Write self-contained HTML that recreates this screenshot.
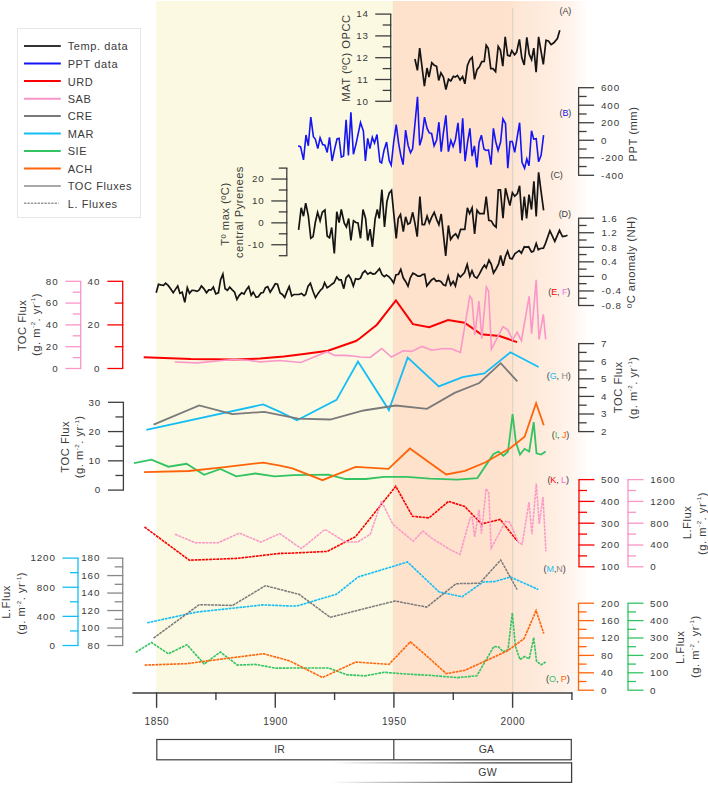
<!DOCTYPE html>
<html><head><meta charset="utf-8"><style>
html,body{margin:0;padding:0;background:#fff;width:708px;height:785px;overflow:hidden}
svg text{font-family:"Liberation Sans", sans-serif}
</style></head><body>
<svg width="708" height="785" viewBox="0 0 708 785" style="position:absolute;left:0;top:0">
<defs><linearGradient id="pg" gradientUnits="userSpaceOnUse" x1="393.8" x2="592" y1="0" y2="0"><stop offset="0.0000" stop-color="#fee2cc"/><stop offset="0.5358" stop-color="#fee2cd"/><stop offset="0.5999" stop-color="#fee3cf"/><stop offset="0.6044" stop-color="#fee6d4"/><stop offset="0.7124" stop-color="#feeadb"/><stop offset="0.8133" stop-color="#ffeee2"/><stop offset="0.9142" stop-color="#fff6f0"/><stop offset="0.9798" stop-color="#ffffff"/></linearGradient><linearGradient id="gw" gradientUnits="userSpaceOnUse" x1="330" x2="500" y1="0" y2="0"><stop offset="0" stop-color="#444" stop-opacity="0"/><stop offset="1" stop-color="#444" stop-opacity="1"/></linearGradient></defs>
<rect x="156.2" y="1" width="237.1" height="691" fill="#fbf9e1"/>
<rect x="393.3" y="1" width="200" height="691" fill="url(#pg)"/>
<line x1="393.3" y1="1" x2="393.3" y2="692" stroke="rgba(150,150,120,0.14)" stroke-width="0.8" />
<line x1="512.7" y1="8" x2="512.7" y2="692" stroke="#d9cfc6" stroke-width="1" />
<rect x="17.5" y="28.5" width="123" height="189" fill="#fff" stroke="#e6e6e6" stroke-width="1"/>
<line x1="24" y1="45.9" x2="60.8" y2="45.9" stroke="#333" stroke-width="2" />
<text x="67.7" y="50.3" font-size="11" text-anchor="start" fill="#3a3a3a" letter-spacing="0.6" >Temp. data</text>
<line x1="24" y1="63.4" x2="60.8" y2="63.4" stroke="#1414f5" stroke-width="2" />
<text x="67.7" y="67.8" font-size="11" text-anchor="start" fill="#3a3a3a" letter-spacing="0.6" >PPT data</text>
<line x1="24" y1="81.1" x2="60.8" y2="81.1" stroke="#fa0000" stroke-width="2" />
<text x="67.7" y="85.5" font-size="11" text-anchor="start" fill="#3a3a3a" letter-spacing="0.6" >URD</text>
<line x1="24" y1="98.8" x2="60.8" y2="98.8" stroke="#fa96c8" stroke-width="2" />
<text x="67.7" y="103.2" font-size="11" text-anchor="start" fill="#3a3a3a" letter-spacing="0.6" >SAB</text>
<line x1="24" y1="116.0" x2="60.8" y2="116.0" stroke="#7a7a7a" stroke-width="2" />
<text x="67.7" y="120.4" font-size="11" text-anchor="start" fill="#3a3a3a" letter-spacing="0.6" >CRE</text>
<line x1="24" y1="133.6" x2="60.8" y2="133.6" stroke="#14bef5" stroke-width="2" />
<text x="67.7" y="138.0" font-size="11" text-anchor="start" fill="#3a3a3a" letter-spacing="0.6" >MAR</text>
<line x1="24" y1="151.0" x2="60.8" y2="151.0" stroke="#34c363" stroke-width="2" />
<text x="67.7" y="155.4" font-size="11" text-anchor="start" fill="#3a3a3a" letter-spacing="0.6" >SIE</text>
<line x1="24" y1="168.6" x2="60.8" y2="168.6" stroke="#ff640a" stroke-width="2" />
<text x="67.7" y="173.0" font-size="11" text-anchor="start" fill="#3a3a3a" letter-spacing="0.6" >ACH</text>
<line x1="24" y1="186.0" x2="60.8" y2="186.0" stroke="#8c8c8c" stroke-width="1.7" />
<text x="67.7" y="190.4" font-size="11" text-anchor="start" fill="#3a3a3a" letter-spacing="0.6" >TOC Fluxes</text>
<line x1="24" y1="203.3" x2="58.5" y2="203.3" stroke="#9a9a9a" stroke-width="1.4" stroke-dasharray="2.4,1"/>
<text x="67.7" y="207.70000000000002" font-size="11" text-anchor="start" fill="#3a3a3a" letter-spacing="0.6" >L. Fluxes</text>
<line x1="390.7" y1="14.1" x2="390.7" y2="101.3" stroke="#3e3e3e" stroke-width="1.3" />
<line x1="375.2" y1="14.1" x2="391.3" y2="14.1" stroke="#3e3e3e" stroke-width="1.3" />
<line x1="382.7" y1="25.0" x2="391.3" y2="25.0" stroke="#3e3e3e" stroke-width="1.3" />
<line x1="375.2" y1="35.9" x2="391.3" y2="35.9" stroke="#3e3e3e" stroke-width="1.3" />
<line x1="382.7" y1="46.800000000000004" x2="391.3" y2="46.800000000000004" stroke="#3e3e3e" stroke-width="1.3" />
<line x1="375.2" y1="57.7" x2="391.3" y2="57.7" stroke="#3e3e3e" stroke-width="1.3" />
<line x1="382.7" y1="68.6" x2="391.3" y2="68.6" stroke="#3e3e3e" stroke-width="1.3" />
<line x1="375.2" y1="79.5" x2="391.3" y2="79.5" stroke="#3e3e3e" stroke-width="1.3" />
<line x1="382.7" y1="90.39999999999999" x2="391.3" y2="90.39999999999999" stroke="#3e3e3e" stroke-width="1.3" />
<line x1="375.2" y1="101.3" x2="391.3" y2="101.3" stroke="#3e3e3e" stroke-width="1.3" />
<text x="368.9" y="17.4" font-size="9.8" text-anchor="end" fill="#3a3a3a" letter-spacing="0.9" >14</text>
<text x="368.9" y="39.199999999999996" font-size="9.8" text-anchor="end" fill="#3a3a3a" letter-spacing="0.9" >13</text>
<text x="368.9" y="61.0" font-size="9.8" text-anchor="end" fill="#3a3a3a" letter-spacing="0.9" >12</text>
<text x="368.9" y="82.8" font-size="9.8" text-anchor="end" fill="#3a3a3a" letter-spacing="0.9" >11</text>
<text x="368.9" y="104.6" font-size="9.8" text-anchor="end" fill="#3a3a3a" letter-spacing="0.9" >10</text>
<text x="346.2" y="58" font-size="11.2" text-anchor="middle" dominant-baseline="central" fill="#3a3a3a" letter-spacing="0.5" transform="rotate(-90 346.2 58)">MAT (ºC) OPCC</text>
<line x1="578.6" y1="87.7" x2="578.6" y2="175.3" stroke="#3e3e3e" stroke-width="1.3" />
<line x1="578.0" y1="87.7" x2="594.1" y2="87.7" stroke="#3e3e3e" stroke-width="1.3" />
<line x1="578.0" y1="96.46000000000001" x2="586.6" y2="96.46000000000001" stroke="#3e3e3e" stroke-width="1.3" />
<line x1="578.0" y1="105.22" x2="594.1" y2="105.22" stroke="#3e3e3e" stroke-width="1.3" />
<line x1="578.0" y1="113.98" x2="586.6" y2="113.98" stroke="#3e3e3e" stroke-width="1.3" />
<line x1="578.0" y1="122.74000000000001" x2="594.1" y2="122.74000000000001" stroke="#3e3e3e" stroke-width="1.3" />
<line x1="578.0" y1="131.5" x2="586.6" y2="131.5" stroke="#3e3e3e" stroke-width="1.3" />
<line x1="578.0" y1="140.26" x2="594.1" y2="140.26" stroke="#3e3e3e" stroke-width="1.3" />
<line x1="578.0" y1="149.02" x2="586.6" y2="149.02" stroke="#3e3e3e" stroke-width="1.3" />
<line x1="578.0" y1="157.78000000000003" x2="594.1" y2="157.78000000000003" stroke="#3e3e3e" stroke-width="1.3" />
<line x1="578.0" y1="166.54000000000002" x2="586.6" y2="166.54000000000002" stroke="#3e3e3e" stroke-width="1.3" />
<line x1="578.0" y1="175.3" x2="594.1" y2="175.3" stroke="#3e3e3e" stroke-width="1.3" />
<text x="601" y="91.0" font-size="9.8" text-anchor="start" fill="#3a3a3a" letter-spacing="0.9" >600</text>
<text x="601" y="108.52" font-size="9.8" text-anchor="start" fill="#3a3a3a" letter-spacing="0.9" >400</text>
<text x="601" y="126.04" font-size="9.8" text-anchor="start" fill="#3a3a3a" letter-spacing="0.9" >200</text>
<text x="601" y="143.56" font-size="9.8" text-anchor="start" fill="#3a3a3a" letter-spacing="0.9" >0</text>
<text x="601" y="161.08000000000004" font-size="9.8" text-anchor="start" fill="#3a3a3a" letter-spacing="0.9" >-200</text>
<text x="601" y="178.60000000000002" font-size="9.8" text-anchor="start" fill="#3a3a3a" letter-spacing="0.9" >-400</text>
<text x="633.2" y="134" font-size="11.2" text-anchor="middle" dominant-baseline="central" fill="#3a3a3a" letter-spacing="0.5" transform="rotate(-90 633.2 134)">PPT (mm)</text>
<line x1="286.8" y1="168.1" x2="286.8" y2="255.7" stroke="#3e3e3e" stroke-width="1.3" />
<line x1="278.8" y1="168.1" x2="287.40000000000003" y2="168.1" stroke="#3e3e3e" stroke-width="1.3" />
<line x1="271.3" y1="179.04999999999998" x2="287.40000000000003" y2="179.04999999999998" stroke="#3e3e3e" stroke-width="1.3" />
<line x1="278.8" y1="190.0" x2="287.40000000000003" y2="190.0" stroke="#3e3e3e" stroke-width="1.3" />
<line x1="271.3" y1="200.95" x2="287.40000000000003" y2="200.95" stroke="#3e3e3e" stroke-width="1.3" />
<line x1="278.8" y1="211.89999999999998" x2="287.40000000000003" y2="211.89999999999998" stroke="#3e3e3e" stroke-width="1.3" />
<line x1="271.3" y1="222.85" x2="287.40000000000003" y2="222.85" stroke="#3e3e3e" stroke-width="1.3" />
<line x1="278.8" y1="233.79999999999998" x2="287.40000000000003" y2="233.79999999999998" stroke="#3e3e3e" stroke-width="1.3" />
<line x1="271.3" y1="244.75" x2="287.40000000000003" y2="244.75" stroke="#3e3e3e" stroke-width="1.3" />
<line x1="278.8" y1="255.7" x2="287.40000000000003" y2="255.7" stroke="#3e3e3e" stroke-width="1.3" />
<text x="264.7" y="182.35" font-size="9.8" text-anchor="end" fill="#3a3a3a" letter-spacing="0.9" >20</text>
<text x="264.7" y="204.25" font-size="9.8" text-anchor="end" fill="#3a3a3a" letter-spacing="0.9" >10</text>
<text x="264.7" y="226.15" font-size="9.8" text-anchor="end" fill="#3a3a3a" letter-spacing="0.9" >0</text>
<text x="264.7" y="248.05" font-size="9.8" text-anchor="end" fill="#3a3a3a" letter-spacing="0.9" >-10</text>
<text x="224.6" y="214" font-size="11.2" text-anchor="middle" dominant-baseline="central" fill="#3a3a3a" letter-spacing="0.5" transform="rotate(-90 224.6 214)">Tº max (ºC)</text>
<text x="239.3" y="212" font-size="11.2" text-anchor="middle" dominant-baseline="central" fill="#3a3a3a" letter-spacing="0.5" transform="rotate(-90 239.3 212)">central Pyrenees</text>
<line x1="578.6" y1="218.2" x2="578.6" y2="305.5" stroke="#3e3e3e" stroke-width="1.3" />
<line x1="578.0" y1="218.2" x2="594.1" y2="218.2" stroke="#3e3e3e" stroke-width="1.3" />
<line x1="578.0" y1="225.475" x2="586.6" y2="225.475" stroke="#3e3e3e" stroke-width="1.3" />
<line x1="578.0" y1="232.75" x2="594.1" y2="232.75" stroke="#3e3e3e" stroke-width="1.3" />
<line x1="578.0" y1="240.02499999999998" x2="586.6" y2="240.02499999999998" stroke="#3e3e3e" stroke-width="1.3" />
<line x1="578.0" y1="247.29999999999998" x2="594.1" y2="247.29999999999998" stroke="#3e3e3e" stroke-width="1.3" />
<line x1="578.0" y1="254.575" x2="586.6" y2="254.575" stroke="#3e3e3e" stroke-width="1.3" />
<line x1="578.0" y1="261.85" x2="594.1" y2="261.85" stroke="#3e3e3e" stroke-width="1.3" />
<line x1="578.0" y1="269.125" x2="586.6" y2="269.125" stroke="#3e3e3e" stroke-width="1.3" />
<line x1="578.0" y1="276.4" x2="594.1" y2="276.4" stroke="#3e3e3e" stroke-width="1.3" />
<line x1="578.0" y1="283.675" x2="586.6" y2="283.675" stroke="#3e3e3e" stroke-width="1.3" />
<line x1="578.0" y1="290.95" x2="594.1" y2="290.95" stroke="#3e3e3e" stroke-width="1.3" />
<line x1="578.0" y1="298.225" x2="586.6" y2="298.225" stroke="#3e3e3e" stroke-width="1.3" />
<line x1="578.0" y1="305.5" x2="594.1" y2="305.5" stroke="#3e3e3e" stroke-width="1.3" />
<text x="601.4" y="221.5" font-size="9.8" text-anchor="start" fill="#3a3a3a" letter-spacing="0.9" >1.6</text>
<text x="601.4" y="236.05" font-size="9.8" text-anchor="start" fill="#3a3a3a" letter-spacing="0.9" >1.2</text>
<text x="601.4" y="250.6" font-size="9.8" text-anchor="start" fill="#3a3a3a" letter-spacing="0.9" >0.8</text>
<text x="601.4" y="265.15000000000003" font-size="9.8" text-anchor="start" fill="#3a3a3a" letter-spacing="0.9" >0.4</text>
<text x="601.4" y="279.7" font-size="9.8" text-anchor="start" fill="#3a3a3a" letter-spacing="0.9" >0</text>
<text x="601.4" y="294.25" font-size="9.8" text-anchor="start" fill="#3a3a3a" letter-spacing="0.9" >-0.4</text>
<text x="601.4" y="308.8" font-size="9.8" text-anchor="start" fill="#3a3a3a" letter-spacing="0.9" >-0.8</text>
<text x="630.7" y="262" font-size="11.2" text-anchor="middle" dominant-baseline="central" fill="#3a3a3a" letter-spacing="0.5" transform="rotate(-90 630.7 262)">ºC anomaly (NH)</text>
<line x1="80.7" y1="281.3" x2="80.7" y2="368.5" stroke="#fa96c8" stroke-width="1.3" />
<line x1="65.5" y1="281.3" x2="81.3" y2="281.3" stroke="#fa96c8" stroke-width="1.3" />
<line x1="72.7" y1="292.2" x2="81.3" y2="292.2" stroke="#fa96c8" stroke-width="1.3" />
<line x1="65.5" y1="303.1" x2="81.3" y2="303.1" stroke="#fa96c8" stroke-width="1.3" />
<line x1="72.7" y1="314.0" x2="81.3" y2="314.0" stroke="#fa96c8" stroke-width="1.3" />
<line x1="65.5" y1="324.9" x2="81.3" y2="324.9" stroke="#fa96c8" stroke-width="1.3" />
<line x1="72.7" y1="335.8" x2="81.3" y2="335.8" stroke="#fa96c8" stroke-width="1.3" />
<line x1="65.5" y1="346.7" x2="81.3" y2="346.7" stroke="#fa96c8" stroke-width="1.3" />
<line x1="72.7" y1="357.6" x2="81.3" y2="357.6" stroke="#fa96c8" stroke-width="1.3" />
<line x1="65.5" y1="368.5" x2="81.3" y2="368.5" stroke="#fa96c8" stroke-width="1.3" />
<text x="58.5" y="284.6" font-size="9.8" text-anchor="end" fill="#3a3a3a" letter-spacing="0.9" >80</text>
<text x="58.5" y="306.40000000000003" font-size="9.8" text-anchor="end" fill="#3a3a3a" letter-spacing="0.9" >60</text>
<text x="58.5" y="328.2" font-size="9.8" text-anchor="end" fill="#3a3a3a" letter-spacing="0.9" >40</text>
<text x="58.5" y="350.0" font-size="9.8" text-anchor="end" fill="#3a3a3a" letter-spacing="0.9" >20</text>
<text x="58.5" y="371.8" font-size="9.8" text-anchor="end" fill="#3a3a3a" letter-spacing="0.9" >0</text>
<line x1="122.7" y1="281.3" x2="122.7" y2="368.5" stroke="#fa0000" stroke-width="1.3" />
<line x1="107.3" y1="281.3" x2="123.3" y2="281.3" stroke="#fa0000" stroke-width="1.3" />
<line x1="114.7" y1="303.1" x2="123.3" y2="303.1" stroke="#fa0000" stroke-width="1.3" />
<line x1="107.3" y1="324.9" x2="123.3" y2="324.9" stroke="#fa0000" stroke-width="1.3" />
<line x1="114.7" y1="346.7" x2="123.3" y2="346.7" stroke="#fa0000" stroke-width="1.3" />
<line x1="107.3" y1="368.5" x2="123.3" y2="368.5" stroke="#fa0000" stroke-width="1.3" />
<text x="100.3" y="284.6" font-size="9.8" text-anchor="end" fill="#3a3a3a" letter-spacing="0.9" >40</text>
<text x="100.3" y="328.2" font-size="9.8" text-anchor="end" fill="#3a3a3a" letter-spacing="0.9" >20</text>
<text x="100.3" y="371.8" font-size="9.8" text-anchor="end" fill="#3a3a3a" letter-spacing="0.9" >0</text>
<text x="21.9" y="325.5" font-size="11.2" text-anchor="middle" dominant-baseline="central" fill="#3a3a3a" letter-spacing="0.5" transform="rotate(-90 21.9 325.5)">TOC Flux</text>
<text x="36.2" y="324.5" font-size="11.2" text-anchor="middle" dominant-baseline="central" fill="#3a3a3a" letter-spacing="0.5" transform="rotate(-90 36.2 324.5)">(g. m<tspan font-size="6.2" dy="-3.8">-2</tspan><tspan dy="3.8">. yr</tspan><tspan font-size="6.2" dy="-3.8">-1</tspan><tspan dy="3.8">)</tspan></text>
<line x1="578.7" y1="343.6" x2="578.7" y2="431.6" stroke="#3e3e3e" stroke-width="1.3" />
<line x1="578.1" y1="343.6" x2="594.2" y2="343.6" stroke="#3e3e3e" stroke-width="1.3" />
<line x1="578.1" y1="352.40000000000003" x2="586.7" y2="352.40000000000003" stroke="#3e3e3e" stroke-width="1.3" />
<line x1="578.1" y1="361.20000000000005" x2="594.2" y2="361.20000000000005" stroke="#3e3e3e" stroke-width="1.3" />
<line x1="578.1" y1="370.0" x2="586.7" y2="370.0" stroke="#3e3e3e" stroke-width="1.3" />
<line x1="578.1" y1="378.8" x2="594.2" y2="378.8" stroke="#3e3e3e" stroke-width="1.3" />
<line x1="578.1" y1="387.6" x2="586.7" y2="387.6" stroke="#3e3e3e" stroke-width="1.3" />
<line x1="578.1" y1="396.40000000000003" x2="594.2" y2="396.40000000000003" stroke="#3e3e3e" stroke-width="1.3" />
<line x1="578.1" y1="405.20000000000005" x2="586.7" y2="405.20000000000005" stroke="#3e3e3e" stroke-width="1.3" />
<line x1="578.1" y1="414.0" x2="594.2" y2="414.0" stroke="#3e3e3e" stroke-width="1.3" />
<line x1="578.1" y1="422.8" x2="586.7" y2="422.8" stroke="#3e3e3e" stroke-width="1.3" />
<line x1="578.1" y1="431.6" x2="594.2" y2="431.6" stroke="#3e3e3e" stroke-width="1.3" />
<text x="601" y="346.90000000000003" font-size="9.8" text-anchor="start" fill="#3a3a3a" letter-spacing="0.9" >7</text>
<text x="601" y="364.50000000000006" font-size="9.8" text-anchor="start" fill="#3a3a3a" letter-spacing="0.9" >6</text>
<text x="601" y="382.1" font-size="9.8" text-anchor="start" fill="#3a3a3a" letter-spacing="0.9" >5</text>
<text x="601" y="399.70000000000005" font-size="9.8" text-anchor="start" fill="#3a3a3a" letter-spacing="0.9" >4</text>
<text x="601" y="417.3" font-size="9.8" text-anchor="start" fill="#3a3a3a" letter-spacing="0.9" >3</text>
<text x="601" y="434.90000000000003" font-size="9.8" text-anchor="start" fill="#3a3a3a" letter-spacing="0.9" >2</text>
<text x="618" y="387.3" font-size="11.2" text-anchor="middle" dominant-baseline="central" fill="#3a3a3a" letter-spacing="0.5" transform="rotate(-90 618 387.3)">TOC Flux</text>
<text x="632.8" y="387.8" font-size="11.2" text-anchor="middle" dominant-baseline="central" fill="#3a3a3a" letter-spacing="0.5" transform="rotate(-90 632.8 387.8)">(g. m<tspan font-size="6.2" dy="-3.8">-2</tspan><tspan dy="3.8">. yr</tspan><tspan font-size="6.2" dy="-3.8">-1</tspan><tspan dy="3.8">)</tspan></text>
<line x1="123.4" y1="402.3" x2="123.4" y2="490.1" stroke="#3e3e3e" stroke-width="1.3" />
<line x1="107.9" y1="402.3" x2="124.0" y2="402.3" stroke="#3e3e3e" stroke-width="1.3" />
<line x1="115.4" y1="416.93333333333334" x2="124.0" y2="416.93333333333334" stroke="#3e3e3e" stroke-width="1.3" />
<line x1="107.9" y1="431.56666666666666" x2="124.0" y2="431.56666666666666" stroke="#3e3e3e" stroke-width="1.3" />
<line x1="115.4" y1="446.20000000000005" x2="124.0" y2="446.20000000000005" stroke="#3e3e3e" stroke-width="1.3" />
<line x1="107.9" y1="460.83333333333337" x2="124.0" y2="460.83333333333337" stroke="#3e3e3e" stroke-width="1.3" />
<line x1="115.4" y1="475.4666666666667" x2="124.0" y2="475.4666666666667" stroke="#3e3e3e" stroke-width="1.3" />
<line x1="107.9" y1="490.1" x2="124.0" y2="490.1" stroke="#3e3e3e" stroke-width="1.3" />
<text x="101.2" y="405.6" font-size="9.8" text-anchor="end" fill="#3a3a3a" letter-spacing="0.9" >30</text>
<text x="101.2" y="434.8666666666667" font-size="9.8" text-anchor="end" fill="#3a3a3a" letter-spacing="0.9" >20</text>
<text x="101.2" y="464.1333333333334" font-size="9.8" text-anchor="end" fill="#3a3a3a" letter-spacing="0.9" >10</text>
<text x="101.2" y="493.40000000000003" font-size="9.8" text-anchor="end" fill="#3a3a3a" letter-spacing="0.9" >0</text>
<text x="64.7" y="446.8" font-size="11.2" text-anchor="middle" dominant-baseline="central" fill="#3a3a3a" letter-spacing="0.5" transform="rotate(-90 64.7 446.8)">TOC Flux</text>
<text x="79.5" y="446.8" font-size="11.2" text-anchor="middle" dominant-baseline="central" fill="#3a3a3a" letter-spacing="0.5" transform="rotate(-90 79.5 446.8)">(g. m<tspan font-size="6.2" dy="-3.8">-2</tspan><tspan dy="3.8">. yr</tspan><tspan font-size="6.2" dy="-3.8">-1</tspan><tspan dy="3.8">)</tspan></text>
<line x1="579" y1="479.6" x2="579" y2="566.8" stroke="#fa0000" stroke-width="1.3" />
<line x1="578.4" y1="479.6" x2="594.5" y2="479.6" stroke="#fa0000" stroke-width="1.3" />
<line x1="578.4" y1="490.5" x2="587" y2="490.5" stroke="#fa0000" stroke-width="1.3" />
<line x1="578.4" y1="501.4" x2="594.5" y2="501.4" stroke="#fa0000" stroke-width="1.3" />
<line x1="578.4" y1="512.3" x2="587" y2="512.3" stroke="#fa0000" stroke-width="1.3" />
<line x1="578.4" y1="523.2" x2="594.5" y2="523.2" stroke="#fa0000" stroke-width="1.3" />
<line x1="578.4" y1="534.1" x2="587" y2="534.1" stroke="#fa0000" stroke-width="1.3" />
<line x1="578.4" y1="545.0" x2="594.5" y2="545.0" stroke="#fa0000" stroke-width="1.3" />
<line x1="578.4" y1="555.9" x2="587" y2="555.9" stroke="#fa0000" stroke-width="1.3" />
<line x1="578.4" y1="566.8" x2="594.5" y2="566.8" stroke="#fa0000" stroke-width="1.3" />
<text x="601" y="482.90000000000003" font-size="9.8" text-anchor="start" fill="#3a3a3a" letter-spacing="0.9" >500</text>
<text x="601" y="504.7" font-size="9.8" text-anchor="start" fill="#3a3a3a" letter-spacing="0.9" >400</text>
<text x="601" y="526.5" font-size="9.8" text-anchor="start" fill="#3a3a3a" letter-spacing="0.9" >300</text>
<text x="601" y="548.3" font-size="9.8" text-anchor="start" fill="#3a3a3a" letter-spacing="0.9" >200</text>
<text x="601" y="570.0999999999999" font-size="9.8" text-anchor="start" fill="#3a3a3a" letter-spacing="0.9" >100</text>
<line x1="628" y1="479.6" x2="628" y2="566.8" stroke="#fa96c8" stroke-width="1.3" />
<line x1="627.4" y1="479.6" x2="643.5" y2="479.6" stroke="#fa96c8" stroke-width="1.3" />
<line x1="627.4" y1="490.5" x2="636" y2="490.5" stroke="#fa96c8" stroke-width="1.3" />
<line x1="627.4" y1="501.4" x2="643.5" y2="501.4" stroke="#fa96c8" stroke-width="1.3" />
<line x1="627.4" y1="512.3" x2="636" y2="512.3" stroke="#fa96c8" stroke-width="1.3" />
<line x1="627.4" y1="523.2" x2="643.5" y2="523.2" stroke="#fa96c8" stroke-width="1.3" />
<line x1="627.4" y1="534.1" x2="636" y2="534.1" stroke="#fa96c8" stroke-width="1.3" />
<line x1="627.4" y1="545.0" x2="643.5" y2="545.0" stroke="#fa96c8" stroke-width="1.3" />
<line x1="627.4" y1="555.9" x2="636" y2="555.9" stroke="#fa96c8" stroke-width="1.3" />
<line x1="627.4" y1="566.8" x2="643.5" y2="566.8" stroke="#fa96c8" stroke-width="1.3" />
<text x="650.2" y="482.90000000000003" font-size="9.8" text-anchor="start" fill="#3a3a3a" letter-spacing="0.9" >1600</text>
<text x="650.2" y="504.7" font-size="9.8" text-anchor="start" fill="#3a3a3a" letter-spacing="0.9" >1200</text>
<text x="650.2" y="526.5" font-size="9.8" text-anchor="start" fill="#3a3a3a" letter-spacing="0.9" >800</text>
<text x="650.2" y="548.3" font-size="9.8" text-anchor="start" fill="#3a3a3a" letter-spacing="0.9" >400</text>
<text x="650.2" y="570.0999999999999" font-size="9.8" text-anchor="start" fill="#3a3a3a" letter-spacing="0.9" >0</text>
<text x="687.1" y="522.5" font-size="11.2" text-anchor="middle" dominant-baseline="central" fill="#3a3a3a" letter-spacing="0.5" transform="rotate(-90 687.1 522.5)">L.Flux</text>
<text x="702.2" y="523.5" font-size="11.2" text-anchor="middle" dominant-baseline="central" fill="#3a3a3a" letter-spacing="0.5" transform="rotate(-90 702.2 523.5)">(g. m<tspan font-size="6.2" dy="-3.8">-2</tspan><tspan dy="3.8">. yr</tspan><tspan font-size="6.2" dy="-3.8">-1</tspan><tspan dy="3.8">)</tspan></text>
<line x1="78" y1="558.1" x2="78" y2="645.5" stroke="#14bef5" stroke-width="1.3" />
<line x1="62.5" y1="558.1" x2="78.6" y2="558.1" stroke="#14bef5" stroke-width="1.3" />
<line x1="70" y1="572.6666666666667" x2="78.6" y2="572.6666666666667" stroke="#14bef5" stroke-width="1.3" />
<line x1="62.5" y1="587.2333333333333" x2="78.6" y2="587.2333333333333" stroke="#14bef5" stroke-width="1.3" />
<line x1="70" y1="601.8" x2="78.6" y2="601.8" stroke="#14bef5" stroke-width="1.3" />
<line x1="62.5" y1="616.3666666666667" x2="78.6" y2="616.3666666666667" stroke="#14bef5" stroke-width="1.3" />
<line x1="70" y1="630.9333333333334" x2="78.6" y2="630.9333333333334" stroke="#14bef5" stroke-width="1.3" />
<line x1="62.5" y1="645.5" x2="78.6" y2="645.5" stroke="#14bef5" stroke-width="1.3" />
<text x="55.8" y="561.4" font-size="9.8" text-anchor="end" fill="#3a3a3a" letter-spacing="0.9" >1200</text>
<text x="55.8" y="590.5333333333333" font-size="9.8" text-anchor="end" fill="#3a3a3a" letter-spacing="0.9" >800</text>
<text x="55.8" y="619.6666666666666" font-size="9.8" text-anchor="end" fill="#3a3a3a" letter-spacing="0.9" >400</text>
<text x="55.8" y="648.8" font-size="9.8" text-anchor="end" fill="#3a3a3a" letter-spacing="0.9" >0</text>
<line x1="122.7" y1="558.1" x2="122.7" y2="645.5" stroke="#888" stroke-width="1.3" />
<line x1="107.2" y1="558.1" x2="123.3" y2="558.1" stroke="#888" stroke-width="1.3" />
<line x1="114.7" y1="566.84" x2="123.3" y2="566.84" stroke="#888" stroke-width="1.3" />
<line x1="107.2" y1="575.58" x2="123.3" y2="575.58" stroke="#888" stroke-width="1.3" />
<line x1="114.7" y1="584.32" x2="123.3" y2="584.32" stroke="#888" stroke-width="1.3" />
<line x1="107.2" y1="593.0600000000001" x2="123.3" y2="593.0600000000001" stroke="#888" stroke-width="1.3" />
<line x1="114.7" y1="601.8" x2="123.3" y2="601.8" stroke="#888" stroke-width="1.3" />
<line x1="107.2" y1="610.54" x2="123.3" y2="610.54" stroke="#888" stroke-width="1.3" />
<line x1="114.7" y1="619.28" x2="123.3" y2="619.28" stroke="#888" stroke-width="1.3" />
<line x1="107.2" y1="628.02" x2="123.3" y2="628.02" stroke="#888" stroke-width="1.3" />
<line x1="114.7" y1="636.76" x2="123.3" y2="636.76" stroke="#888" stroke-width="1.3" />
<line x1="107.2" y1="645.5" x2="123.3" y2="645.5" stroke="#888" stroke-width="1.3" />
<text x="100.3" y="561.4" font-size="9.8" text-anchor="end" fill="#3a3a3a" letter-spacing="0.9" >180</text>
<text x="100.3" y="578.88" font-size="9.8" text-anchor="end" fill="#3a3a3a" letter-spacing="0.9" >160</text>
<text x="100.3" y="596.36" font-size="9.8" text-anchor="end" fill="#3a3a3a" letter-spacing="0.9" >140</text>
<text x="100.3" y="613.8399999999999" font-size="9.8" text-anchor="end" fill="#3a3a3a" letter-spacing="0.9" >120</text>
<text x="100.3" y="631.3199999999999" font-size="9.8" text-anchor="end" fill="#3a3a3a" letter-spacing="0.9" >100</text>
<text x="100.3" y="648.8" font-size="9.8" text-anchor="end" fill="#3a3a3a" letter-spacing="0.9" >80</text>
<text x="6.3" y="602" font-size="11.2" text-anchor="middle" dominant-baseline="central" fill="#3a3a3a" letter-spacing="0.5" transform="rotate(-90 6.3 602)">L.Flux</text>
<text x="21.5" y="603.3" font-size="11.2" text-anchor="middle" dominant-baseline="central" fill="#3a3a3a" letter-spacing="0.5" transform="rotate(-90 21.5 603.3)">(g. m<tspan font-size="6.2" dy="-3.8">-2</tspan><tspan dy="3.8">. yr</tspan><tspan font-size="6.2" dy="-3.8">-1</tspan><tspan dy="3.8">)</tspan></text>
<line x1="578.5" y1="603.2" x2="578.5" y2="690.2" stroke="#ff640a" stroke-width="1.3" />
<line x1="577.9" y1="603.2" x2="594.0" y2="603.2" stroke="#ff640a" stroke-width="1.3" />
<line x1="577.9" y1="611.9000000000001" x2="586.5" y2="611.9000000000001" stroke="#ff640a" stroke-width="1.3" />
<line x1="577.9" y1="620.6" x2="594.0" y2="620.6" stroke="#ff640a" stroke-width="1.3" />
<line x1="577.9" y1="629.3000000000001" x2="586.5" y2="629.3000000000001" stroke="#ff640a" stroke-width="1.3" />
<line x1="577.9" y1="638.0" x2="594.0" y2="638.0" stroke="#ff640a" stroke-width="1.3" />
<line x1="577.9" y1="646.7" x2="586.5" y2="646.7" stroke="#ff640a" stroke-width="1.3" />
<line x1="577.9" y1="655.4000000000001" x2="594.0" y2="655.4000000000001" stroke="#ff640a" stroke-width="1.3" />
<line x1="577.9" y1="664.1" x2="586.5" y2="664.1" stroke="#ff640a" stroke-width="1.3" />
<line x1="577.9" y1="672.8000000000001" x2="594.0" y2="672.8000000000001" stroke="#ff640a" stroke-width="1.3" />
<line x1="577.9" y1="681.5" x2="586.5" y2="681.5" stroke="#ff640a" stroke-width="1.3" />
<line x1="577.9" y1="690.2" x2="594.0" y2="690.2" stroke="#ff640a" stroke-width="1.3" />
<text x="601" y="606.5" font-size="9.8" text-anchor="start" fill="#3a3a3a" letter-spacing="0.9" >200</text>
<text x="601" y="623.9" font-size="9.8" text-anchor="start" fill="#3a3a3a" letter-spacing="0.9" >160</text>
<text x="601" y="641.3" font-size="9.8" text-anchor="start" fill="#3a3a3a" letter-spacing="0.9" >120</text>
<text x="601" y="658.7" font-size="9.8" text-anchor="start" fill="#3a3a3a" letter-spacing="0.9" >80</text>
<text x="601" y="676.1" font-size="9.8" text-anchor="start" fill="#3a3a3a" letter-spacing="0.9" >40</text>
<text x="601" y="693.5" font-size="9.8" text-anchor="start" fill="#3a3a3a" letter-spacing="0.9" >0</text>
<line x1="628" y1="603.2" x2="628" y2="690.2" stroke="#34c363" stroke-width="1.3" />
<line x1="627.4" y1="603.2" x2="643.5" y2="603.2" stroke="#34c363" stroke-width="1.3" />
<line x1="627.4" y1="611.9000000000001" x2="636" y2="611.9000000000001" stroke="#34c363" stroke-width="1.3" />
<line x1="627.4" y1="620.6" x2="643.5" y2="620.6" stroke="#34c363" stroke-width="1.3" />
<line x1="627.4" y1="629.3000000000001" x2="636" y2="629.3000000000001" stroke="#34c363" stroke-width="1.3" />
<line x1="627.4" y1="638.0" x2="643.5" y2="638.0" stroke="#34c363" stroke-width="1.3" />
<line x1="627.4" y1="646.7" x2="636" y2="646.7" stroke="#34c363" stroke-width="1.3" />
<line x1="627.4" y1="655.4000000000001" x2="643.5" y2="655.4000000000001" stroke="#34c363" stroke-width="1.3" />
<line x1="627.4" y1="664.1" x2="636" y2="664.1" stroke="#34c363" stroke-width="1.3" />
<line x1="627.4" y1="672.8000000000001" x2="643.5" y2="672.8000000000001" stroke="#34c363" stroke-width="1.3" />
<line x1="627.4" y1="681.5" x2="636" y2="681.5" stroke="#34c363" stroke-width="1.3" />
<line x1="627.4" y1="690.2" x2="643.5" y2="690.2" stroke="#34c363" stroke-width="1.3" />
<text x="650" y="606.5" font-size="9.8" text-anchor="start" fill="#3a3a3a" letter-spacing="0.9" >500</text>
<text x="650" y="623.9" font-size="9.8" text-anchor="start" fill="#3a3a3a" letter-spacing="0.9" >400</text>
<text x="650" y="641.3" font-size="9.8" text-anchor="start" fill="#3a3a3a" letter-spacing="0.9" >300</text>
<text x="650" y="658.7" font-size="9.8" text-anchor="start" fill="#3a3a3a" letter-spacing="0.9" >200</text>
<text x="650" y="676.1" font-size="9.8" text-anchor="start" fill="#3a3a3a" letter-spacing="0.9" >100</text>
<text x="650" y="693.5" font-size="9.8" text-anchor="start" fill="#3a3a3a" letter-spacing="0.9" >0</text>
<text x="680.3" y="647.3" font-size="11.2" text-anchor="middle" dominant-baseline="central" fill="#3a3a3a" letter-spacing="0.5" transform="rotate(-90 680.3 647.3)">L.Flux</text>
<text x="694.7" y="646.6" font-size="11.2" text-anchor="middle" dominant-baseline="central" fill="#3a3a3a" letter-spacing="0.5" transform="rotate(-90 694.7 646.6)">(g. m<tspan font-size="6.2" dy="-3.8">-2</tspan><tspan dy="3.8">. yr</tspan><tspan font-size="6.2" dy="-3.8">-1</tspan><tspan dy="3.8">)</tspan></text>
<text x="559.5" y="14.0" font-size="9" fill="#3a3a3a" letter-spacing="-0.1"><tspan fill="#3a3a3a">(A)</tspan></text>
<text x="559.5" y="116.0" font-size="9" fill="#3a3a3a" letter-spacing="-0.1"><tspan fill="#3a3a3a">(</tspan><tspan fill="#1414f5">B</tspan><tspan fill="#3a3a3a">)</tspan></text>
<text x="550.5" y="178.0" font-size="9" fill="#3a3a3a" letter-spacing="-0.1"><tspan fill="#3a3a3a">(C)</tspan></text>
<text x="558.7" y="216.5" font-size="9" fill="#3a3a3a" letter-spacing="-0.1"><tspan fill="#3a3a3a">(D)</tspan></text>
<text x="548.3" y="295.2" font-size="9" fill="#3a3a3a" letter-spacing="-0.1"><tspan fill="#3a3a3a">(</tspan><tspan fill="#fa0000">E</tspan><tspan fill="#3a3a3a">, </tspan><tspan fill="#f070e0">F</tspan><tspan fill="#3a3a3a">)</tspan></text>
<text x="546.8" y="379.3" font-size="9" fill="#3a3a3a" letter-spacing="-0.1"><tspan fill="#3a3a3a">(</tspan><tspan fill="#14bef5">G</tspan><tspan fill="#3a3a3a">, </tspan><tspan fill="#888">H</tspan><tspan fill="#3a3a3a">)</tspan></text>
<text x="551.8" y="437.5" font-size="9" fill="#3a3a3a" letter-spacing="-0.1"><tspan fill="#3a3a3a">(</tspan><tspan fill="#34c363">I</tspan><tspan fill="#3a3a3a">, </tspan><tspan fill="#ff640a">J</tspan><tspan fill="#3a3a3a">)</tspan></text>
<text x="547.4" y="482.8" font-size="9" fill="#3a3a3a" letter-spacing="-0.1"><tspan fill="#3a3a3a">(</tspan><tspan fill="#fa0000">K</tspan><tspan fill="#3a3a3a">, </tspan><tspan fill="#f070e0">L</tspan><tspan fill="#3a3a3a">)</tspan></text>
<text x="543.6" y="572.1" font-size="9" fill="#3a3a3a" letter-spacing="-0.1"><tspan fill="#3a3a3a">(</tspan><tspan fill="#14bef5">M</tspan><tspan fill="#3a3a3a">,</tspan><tspan fill="#888">N</tspan><tspan fill="#3a3a3a">)</tspan></text>
<text x="546.1" y="682.1" font-size="9" fill="#3a3a3a" letter-spacing="-0.1"><tspan fill="#3a3a3a">(</tspan><tspan fill="#34c363">O</tspan><tspan fill="#3a3a3a">, </tspan><tspan fill="#ff640a">P</tspan><tspan fill="#3a3a3a">)</tspan></text>
<polyline points="414.9,59.0 417.4,70.3 419.7,48.2 424.4,86.1 427,68 429,77 431.8,62.7 434.2,65.2 436.6,66.3 438.7,80.5 440.9,72.9 443.4,77.1 445.9,89.5 448.5,79.3 450.8,81 453.4,76.3 455.3,77.1 457.5,75.4 460.1,79.9 462.6,76.5 464.9,83.8 467.5,65.2 470,59.5 472.2,57.3 474.5,79.3 477,69.7 479.4,66.9 481.8,61.6 484.2,61.4 486.2,45.2 488.2,48.2 490.8,68.6 493,68.6 495.6,71.6 498.2,46.4 500.4,50 502.8,66.2 505.2,36.8 507.6,55.4 510,56 511.8,50.6 514.6,54.8 516.6,52.4 519.4,39.4 521.8,57.8 524.2,65 526.8,37.4 529.2,54.2 531.6,59.6 533.8,48.2 536.1,72.2 538.6,36.8 541,51.2 543.3,64.4 546,40.4 548.4,41 551.1,44.6 553.8,42.8 557.4,38.6 559.8,30.2" fill="none" stroke="#141414" stroke-width="1.7" stroke-linejoin="miter" stroke-miterlimit="4"/>
<polyline points="298.2,145.8 300.6,146.9 303.5,159.9 306,135 308.3,145.8 310.8,117 313.4,136.7 315.3,139 317.8,148.6 320.1,137.9 322.7,144.6 324.9,145.2 327.2,152.5 329.5,137.3 332.1,161 334.5,149.7 337,139 339.1,138.4 341.3,157.1 343.6,155.9 346.1,119.8 348.4,155.4 350.9,112.4 353.4,154.2 356,144.1 360.5,122.6 363.4,131.1 365.4,161 367.7,138.4 369.9,148.7 372.3,137.4 374.5,143.1 377,134.6 379.9,161.8 381.6,162.9 384.1,149.9 386.6,142 389.2,160.6 391.2,165.1 393.7,142 396.2,124.5 398.6,143.1 400.8,155.5 403.1,164.6 405.6,130.1 408.1,145.4 410.5,152.7 412.6,148.8 417.5,96.8 419.7,145.4 422,137.5 424.5,117.1 427.1,128.4 429.3,132.9 431.6,133.5 434.1,145.9 436.7,139.7 438.9,122.2 441.2,151.6 443.4,132.9 445.9,115.4 448.4,151.6 450.9,140.3 453.1,146.5 455.4,139.7 458,122.8 460.3,153.3 462.7,118.2 465.1,161.2 467.6,142 469.9,128.4 472.1,156.1 474.4,145.9 476.9,167.4 479.1,142.5 481.4,135.2 484,149.3 486.2,150.5 488.5,149.9 491,164.6 493.4,128.4 495.8,142 498.1,150.5 500.6,142 502.9,118.8 505.5,123.5 507.8,168.1 510.1,141.5 512.3,141.5 514.7,152.3 519.6,122.7 522,162.3 524.6,168.2 526.8,158.9 529,165.8 531.5,130.7 533.7,139.1 536.2,138.6 538.6,161.8 541.1,155.4 543.6,135.1" fill="none" stroke="#1414f5" stroke-width="1.6" stroke-linejoin="miter" stroke-miterlimit="4"/>
<polyline points="298.6,229.8 301.2,207.8 303.5,216.2 305.7,203.2 308.3,215.7 310.8,238.3 313.1,236.6 315.3,222.5 317.6,212.3 320.1,220.8 322.3,212.3 324.9,210 327.2,236 329.5,237.7 331.7,227.5 334.3,253.5 336.8,211.7 339.1,222.5 341.3,209.5 344.2,223 346.4,227 348.7,218.5 350.9,240.5 353.5,220.8 356,222.5 358,223 360.5,238.3 363,209.5 365.6,218.5 367.7,240.5 370.1,229.2 372.4,246.8 375.1,219.1 377.3,209.5 379.3,218.5 381.9,189.7 384.5,227 386.9,201.6 389.2,193.1 391.5,190.3 396.2,238.3 398.2,218.5 400.5,214.5 403.3,231.5 405.6,216.8 407.9,224.2 410.1,223 412.7,212.3 415,223.6 417.2,236.6 419.9,196.5 422.2,224.7 424.5,224.7 427.1,216.2 429.3,223 431.6,217.4 434.2,212.3 436.7,219.6 438.9,224.7 441.2,214 445.7,255.8 448.4,225.5 450.6,239.6 452.9,236.2 455.7,233.9 458,237.9 460.6,229.4 464.8,229.4 467.4,207.9 469.6,213.6 472.1,207.9 474.6,233.9 477,210.2 479.5,213.6 484,213.6 486.2,196.6 488.8,220.4 491.3,220.9 493.6,224.9 496.1,227.1 498.3,189.9 500.4,189.9 503,218.1 505.5,188.2 507.7,197.2 509.9,205.5 512.4,192.6 514.7,196.1 517.4,193.6 519.6,185.7 522,220.3 524.3,196.6 526.6,218.4 529,194.6 531.5,209.5 533.9,181.3 536.2,216.4 538.6,172.4 541.1,191.7 543.6,210.4" fill="none" stroke="#141414" stroke-width="1.7" stroke-linejoin="miter" stroke-miterlimit="4"/>
<polyline points="156.2,292.8 158.5,284.3 160.7,284.9 163.6,285.4 165.6,283.2 168.1,285.4 170.6,288.8 173.2,292.8 175.4,289.4 177.7,286 179.9,293.3 182.2,292.2 184.8,302.4 187.3,287.7 189.5,293.3 192,290.3 194.6,290.5 196.9,291.4 199.2,289.9 201.4,286 204,288.8 206.5,292.8 208.8,289.9 211.2,289.9 213.3,287.1 215.8,293.9 218.4,292.8 220.6,279.8 222.9,274.1 225.1,288.8 227.5,290.3 229.7,287.1 232,289.6 234.6,292.2 236.9,299.5 239.1,295.6 241.7,292.8 244,294.1 246.2,289.9 248.7,286.6 251.2,295.3 253.2,292.2 256.1,297.3 258.3,296.7 260.9,293 263.2,292.5 265.5,287.7 267.7,286.6 270.2,292.2 272.7,288.2 275.3,283.7 277.5,284.3 280.1,293 282.4,294.5 284.7,297.5 286.9,291.6 289.2,286.6 291.7,295.9 293.9,294.5 296.4,294.5 299,294.5 301.5,293.4 304,295.7 305.6,294.5 308.1,286.1 310.4,283.2 313,291.2 315.5,297.7 318.1,293.4 320.6,290 322.6,288.3 324.6,282.7 327.1,287.8 329.6,286.1 331.9,284.2 334.1,282.7 336.7,277 339,279.9 341.2,279.9 343.8,288.7 346.1,277.6 348.6,275.1 350.8,278.7 353.3,286.1 355.6,278.7 358.2,279.3 360.5,278.2 362.7,273.1 365,270.8 367.8,274.2 370.3,272.5 372.9,274 375.1,273.6 377.5,271 379.5,268.7 382,274.6 384.3,276.6 386.3,275 388.8,276.6 391.4,279.5 393.6,282.9 395.9,275 398.5,274.2 400.8,269.3 403.2,277.8 405.7,281.7 408,286.2 410.3,277.8 412.9,273.2 415.5,274.6 417.9,276.1 420.2,276.1 422.5,274.6 424.7,274.2 426.8,285.9 429.2,282.9 431.5,280 434,278.3 436.2,281.2 438.8,280.6 441.1,281.7 443.4,284.8 445.6,285.7 448.2,276.1 450.7,285.1 453.2,281.5 455.4,286 458.1,274.2 460.4,277 464.5,272.5 467.2,264.5 469.8,276.4 472,270.8 474.3,276.4 476.9,278.1 479.6,273.6 482.2,268.5 484.5,265.1 486.2,267.9 489,260 491.2,264 493.5,273 496.3,268.5 498.6,264 500.6,255.5 503.1,265.7 505.4,256.6 507.6,251.2 509.9,258.3 512.1,258.9 515,253.6 517.4,251.9 519.2,250.6 521.4,253.1 524.3,246.8 526,247.2 528.6,246.8 531.5,251.9 533.5,251.4 536.2,243.4 538.3,249.7 540.4,248.5 543.4,248.1 545.5,243.4 549.9,230.7 554.8,241.3 559.5,230.3 562.5,236.6 565,236.2 567.5,235.3" fill="none" stroke="#141414" stroke-width="1.7" stroke-linejoin="miter" stroke-miterlimit="4"/>
<polyline points="143.7,357.3 190.8,359 234.9,359.5 260,358.6 283.9,356.6 305.9,353.7 328,350.7 355.9,341 360,338.3 376.9,324.7 395.9,300.5 412.9,324.2 429.2,327.3 448.1,320 464.6,322.7 481.1,334.3 499.5,336 517.1,342.1" fill="none" stroke="#fa0000" stroke-width="2" stroke-linejoin="miter" stroke-miterlimit="4"/>
<polyline points="174.7,362 197.6,362.9 224.7,360.3 234.9,359.5 248.5,360.3 260.2,361.9 279.7,360.5 300.8,362.5 327.1,351.7 334.7,355.4 344.9,355.4 355.1,356.3 360,357 370.2,357.5 381.7,348.5 391.4,357 403.2,350.7 411.7,351.4 421.9,346.4 432,350.2 441.4,348.8 451.5,348.8 460.4,352.4 469.8,296.2 471.9,299 474.8,335 479,301.1 481.8,338.6 486.4,287 488.6,291.2 491.4,349.2 503,326.6 508,330.1 512.6,340 517.1,332.2 521.4,340.7 529.2,296.2 531.6,333.6 536.2,279.9 539,339.3 543.3,314.3 545.7,339.3" fill="none" stroke="#fa96c8" stroke-width="1.6" stroke-linejoin="miter" stroke-miterlimit="4"/>
<polyline points="146.3,429.9 263.2,404.4 280,411.9 297,420.2 336.5,399.9 358,361.5 388.9,410.1 407.7,357.6 438.8,386.4 462.5,377.1 484.3,373.5 510.4,352.3 538.6,367" fill="none" stroke="#14bef5" stroke-width="1.8" stroke-linejoin="miter" stroke-miterlimit="4"/>
<polyline points="153.6,424.7 199.2,405.5 232.2,414.1 264.3,411.9 298.1,418.6 330.2,419.5 363.6,410.5 395.7,405.5 426.9,408.9 454.6,392.9 479.3,383 500.7,363.2 517.3,381.4" fill="none" stroke="#7a7a7a" stroke-width="1.8" stroke-linejoin="miter" stroke-miterlimit="4"/>
<polyline points="134.1,463.1 151.5,459.7 168.4,466.7 186.5,463.8 204.1,474.8 220.4,469 236.2,476.4 255.4,473.5 274.6,476.4 293.6,475.2 328.6,474.7 345.5,479 365.9,479 384,476.8 406.6,476.8 430,478.7 457.5,479.6 477.4,478.1 493.3,454.3 498.3,451.5 503.4,455.7 508,451.5 512.6,414.2 515.9,442.3 520,454.6 524.6,448.8 529.2,451.5 533.7,422.1 536.5,453.3 541.1,454.6 545.7,451.5" fill="none" stroke="#34c363" stroke-width="1.8" stroke-linejoin="miter" stroke-miterlimit="4"/>
<polyline points="144,472.1 188.8,471 220.4,467.6 263.3,462.6 280,465.7 292.4,468.4 322.5,480.2 355.7,466.8 388.5,468.9 409.9,448.5 430,463.1 446.2,474.5 464.9,470.8 485.1,462.5 510.8,447.8 524.6,436.8 536.1,403.2 543.8,425.3" fill="none" stroke="#ff640a" stroke-width="1.8" stroke-linejoin="miter" stroke-miterlimit="4"/>
<polyline points="144.5,527 189.3,560.2 237.2,558.4 280.1,553.4 290,553.2 327.3,551.4 355.5,536.7 395.8,486.3 412.5,516.3 429,517.9 448.5,501.4 464.6,506.4 481.5,523.9 500.2,519.5 517.1,540.8" fill="none" stroke="#fa0000" stroke-width="1.6" stroke-linejoin="miter" stroke-miterlimit="4" stroke-dasharray="2.8,0.8"/>
<polyline points="175,534.2 195.4,542.8 218,542.8 239.4,533.1 260.9,542.1 279.7,533.6 301.3,548.6 325,529.4 345.4,541.9 357.8,541.9 370.2,534.4 381.5,501.2 392.8,524.2 413.2,541.2 422.9,531 431.2,537.8 450.2,549.7 460,554.4 470.2,517.5 472.2,517.5 474.7,537 479,509.8 481.5,533.6 486.1,488.6 488.8,492.9 491.2,548.3 505.5,521.4 509.5,521.9 518.8,542.9 522.2,544.2 529,502.2 531.9,534.1 536.3,483.6 539.2,523.9 543,497.1 545.9,551.4" fill="none" stroke="#fa96c8" stroke-width="1.5" stroke-linejoin="miter" stroke-miterlimit="4" stroke-dasharray="2.8,0.8"/>
<polyline points="147.2,622.8 196.5,612.1 263.2,604.9 290,606 296.8,606 336.3,594.3 357.8,577.1 407.5,562 439.2,592 462,596.8 483.2,582 495.1,581.5 510.3,577 538.3,589.5" fill="none" stroke="#14bef5" stroke-width="1.6" stroke-linejoin="miter" stroke-miterlimit="4" stroke-dasharray="2.8,0.8"/>
<polyline points="153.6,638.1 199.2,604.7 232.7,605.4 265.4,585.7 290,592 299,594.3 330.2,617.3 394.9,601 426.7,607.1 456.1,583.7 479.8,583.2 500.7,560 517.1,589.5" fill="none" stroke="#7a7a7a" stroke-width="1.5" stroke-linejoin="miter" stroke-miterlimit="4" stroke-dasharray="2.8,0.8"/>
<polyline points="135.6,652.4 151.5,642.5 168.4,653.8 187,644.7 204.1,664 220.4,652 237.3,665.1 255.4,664.4 275.8,668.2 293.6,668 328.6,668 346.7,674.7 364.7,675.9 384,672.3 406.6,674 430,675.4 457.5,677.6 476.8,675.8 493.9,646.4 498.3,646.8 503.1,651.6 508,649.7 512.3,613 515.4,646.4 520,659.6 524.6,656.5 529.2,658.9 533.7,637.6 536.5,661.1 541.1,664.8 545.7,662" fill="none" stroke="#34c363" stroke-width="1.6" stroke-linejoin="miter" stroke-miterlimit="4" stroke-dasharray="2.8,0.8"/>
<polyline points="144.7,665.1 186.5,663.7 220.4,659.2 263.3,653.8 280,658.2 290.2,661.2 322.5,677.5 355.7,662.1 388.9,664.4 410.4,641.8 430,658.9 446.2,673.6 464.9,670.3 485.1,661.1 507.1,651 524,638.7 536.1,610.6 543.8,633.6" fill="none" stroke="#ff640a" stroke-width="1.6" stroke-linejoin="miter" stroke-miterlimit="4" stroke-dasharray="2.8,0.8"/>
<line x1="132.4" y1="692.9" x2="572.2" y2="692.9" stroke="#3e3e3e" stroke-width="1.5" />
<line x1="156.6" y1="692.3" x2="156.6" y2="707.8" stroke="#3e3e3e" stroke-width="1.4" />
<text x="156.9" y="725.3" font-size="10" text-anchor="middle" fill="#3a3a3a" letter-spacing="0.6" >1850</text>
<line x1="215.93333333333334" y1="692.3" x2="215.93333333333334" y2="700" stroke="#3e3e3e" stroke-width="1.4" />
<line x1="275.26666666666665" y1="692.3" x2="275.26666666666665" y2="707.8" stroke="#3e3e3e" stroke-width="1.4" />
<text x="275.57" y="725.3" font-size="10" text-anchor="middle" fill="#3a3a3a" letter-spacing="0.6" >1900</text>
<line x1="334.6" y1="692.3" x2="334.6" y2="700" stroke="#3e3e3e" stroke-width="1.4" />
<line x1="393.93333333333334" y1="692.3" x2="393.93333333333334" y2="707.8" stroke="#3e3e3e" stroke-width="1.4" />
<text x="394.23" y="725.3" font-size="10" text-anchor="middle" fill="#3a3a3a" letter-spacing="0.6" >1950</text>
<line x1="453.26666666666665" y1="692.3" x2="453.26666666666665" y2="700" stroke="#3e3e3e" stroke-width="1.4" />
<line x1="512.6" y1="692.3" x2="512.6" y2="707.8" stroke="#3e3e3e" stroke-width="1.4" />
<text x="512.9" y="725.3" font-size="10" text-anchor="middle" fill="#3a3a3a" letter-spacing="0.6" >2000</text>
<line x1="571.9333333333333" y1="692.3" x2="571.9333333333333" y2="700" stroke="#3e3e3e" stroke-width="1.4" />
<rect x="156.8" y="739.5" width="414.5" height="20.3" fill="none" stroke="#3e3e3e" stroke-width="1.2"/>
<line x1="393.8" y1="739.5" x2="393.8" y2="759.8" stroke="#3e3e3e" stroke-width="1.2" />
<text x="279.6" y="752.9" font-size="10.5" text-anchor="middle" fill="#3a3a3a" letter-spacing="0.2" >IR</text>
<text x="486.5" y="752.9" font-size="10.5" text-anchor="middle" fill="#3a3a3a" letter-spacing="0.2" >GA</text>
<line x1="330" y1="762.8" x2="571.6" y2="762.8" stroke="url(#gw)" stroke-width="1.3"/>
<line x1="330" y1="782.3" x2="571.6" y2="782.3" stroke="url(#gw)" stroke-width="1.3"/>
<line x1="571.6" y1="762.2" x2="571.6" y2="782.9" stroke="#3e3e3e" stroke-width="1.3" />
<text x="487.6" y="775.9" font-size="10.5" text-anchor="middle" fill="#3a3a3a" letter-spacing="0.2" >GW</text>
</svg>
</body></html>
